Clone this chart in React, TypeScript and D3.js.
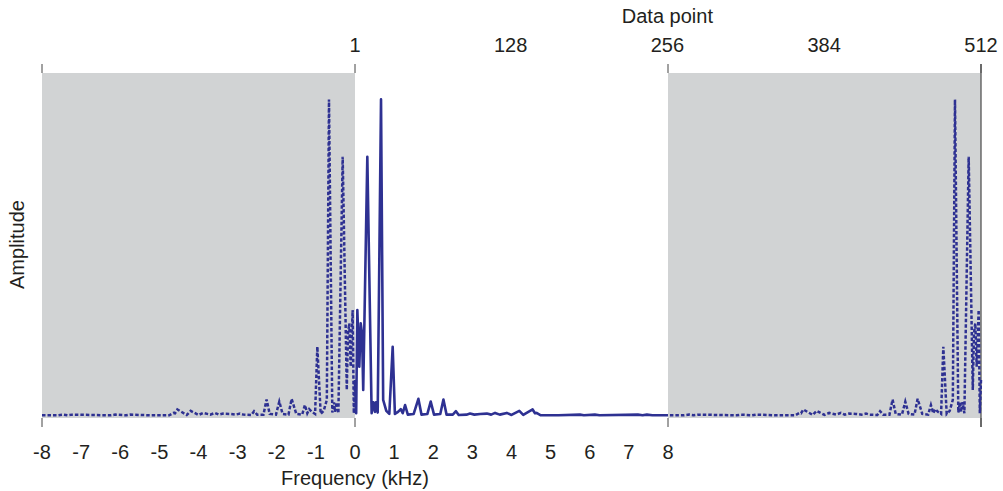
import React from "react";
import * as d3 from "d3";

// Positive-frequency spectrum (kHz, amplitude) (data points 1..256)
const freqKHz = [
  0.0, 0.03, 0.06, 0.11, 0.146, 0.18, 0.21, 0.315, 0.425, 0.47, 0.51, 0.537, 0.58, 0.665, 0.72, 0.8,
  0.877, 0.963, 1.02, 1.1, 1.17, 1.22, 1.28, 1.35, 1.5, 1.62, 1.7, 1.85, 1.935, 2.02, 2.18, 2.26,
  2.34, 2.5, 2.58, 2.65, 2.85, 2.94, 3.05, 3.2, 3.37, 3.48, 3.58, 3.7, 3.88, 4.0, 4.2, 4.3, 4.54,
  4.6, 4.64, 4.75, 5.2, 5.75, 5.85, 6.13, 6.25, 7.23, 7.35, 7.46, 7.6, 8.0,
];
const amplitude = [
  0.105, 0.008, 0.309, 0.144, 0.27, 0.241, 0.076, 0.756, 0.008, 0.04, 0.012, 0.04, 0.01, 0.923, 0.047, 0.015,
  0.006, 0.202, 0.006, 0.012, 0.02, 0.008, 0.032, 0.004, 0.006, 0.05, 0.004, 0.006, 0.042, 0.004, 0.006, 0.048,
  0.004, 0.004, 0.014, 0.003, 0.004, 0.007, 0.004, 0.006, 0.007, 0.004, 0.009, 0.004, 0.009, 0.003, 0.015, 0.003, 0.019,
  0.008, 0.009, 0.002, 0.002, 0.004, 0.002, 0.004, 0.002, 0.004, 0.002, 0.004, 0.002, 0.002,
];

const freqTicks = [-8, -7, -6, -5, -4, -3, -2, -1, 0, 1, 2, 3, 4, 5, 6, 7, 8];
const pointTicks = [1, 128, 256, 384, 512];
const grayBands: [number, number][] = [[-8, 0], [8, 16]];
const edgeTicksTop = [-8, 0, 8, 16];
const edgeTicksBottom = [-8, 0, 8, 16];

const W = 1003;
const H = 491;
const COLOR = "#2E3192";
const GRAY = "#D1D3D4";
const TEXT = "#231F20";
const FONT = "'Liberation Sans', Arial, Helvetica, sans-serif";

export default function App() {
  const x = d3.scaleLinear().domain([-8, 16]).range([42, 981]);
  const xTop = d3.scaleLinear().domain([1, 512]).range([x(0), x(16)]);
  const y = d3.scaleLinear().domain([0, 1]).range([416, 73]);
  const plotTop = 73;
  const plotBottom = 418;

  const pos = freqKHz.map((f, i) => ({ f, a: amplitude[i] }));
  const negLeft = pos.map((p) => ({ f: -p.f, a: p.a })).reverse();
  const negRight = pos.map((p) => ({ f: 16 - p.f, a: p.a }));

  const line = d3
    .line<{ f: number; a: number }>()
    .x((d) => x(d.f))
    .y((d) => y(d.a));

  return (
    <div style={{ position: "absolute", left: 0, top: 0 }}>
      <svg width={W} height={H} style={{ display: "block" }} fontFamily={FONT}>
        <rect x={0} y={0} width={W} height={H} fill="#fff" />
        {grayBands.map(([a, b], i) => (
          <rect key={i} x={x(a)} y={plotTop} width={x(b) - x(a)} height={plotBottom - plotTop} fill={GRAY} />
        ))}
        {/* right edge line */}
        <line x1={x(16)} x2={x(16)} y1={plotTop - 9} y2={plotBottom + 9} stroke="#555" strokeWidth={1.3} />
        {edgeTicksTop.map((t) => (
          <line key={"tt" + t} x1={x(t)} x2={x(t)} y1={plotTop - 9} y2={plotTop} stroke="#444" strokeWidth={1} />
        ))}
        {edgeTicksBottom.map((t) => (
          <line key={"tb" + t} x1={x(t)} x2={x(t)} y1={plotBottom} y2={plotBottom + 9} stroke="#444" strokeWidth={1} />
        ))}
        <path d={line(negLeft) || ""} fill="none" stroke={COLOR} strokeWidth={2.5} strokeDasharray="3.5,2" />
        <path d={line(negRight) || ""} fill="none" stroke={COLOR} strokeWidth={2.5} strokeDasharray="3.5,2" />
        <path d={line(pos) || ""} fill="none" stroke={COLOR} strokeWidth={2.6} strokeLinejoin="round" />
        {freqTicks.map((t) => (
          <text key={"fl" + t} x={x(t)} y={459} textAnchor="middle" fontSize={20} fill={TEXT}>
            {String(t)}
          </text>
        ))}
        {pointTicks.map((t) => (
          <text key={"pl" + t} x={xTop(t)} y={52} textAnchor="middle" fontSize={20} fill={TEXT}>
            {String(t)}
          </text>
        ))}
        <text x={x(0)} y={485} textAnchor="middle" fontSize={20} fill={TEXT}>
          Frequency (kHz)
        </text>
        <text x={xTop(256)} y={23} textAnchor="middle" fontSize={20} fill={TEXT}>
          Data point
        </text>
        <text transform={`translate(24, ${(plotTop + 416) / 2}) rotate(-90)`} textAnchor="middle" fontSize={20} fill={TEXT}>
          Amplitude
        </text>
      </svg>
    </div>
  );
}
